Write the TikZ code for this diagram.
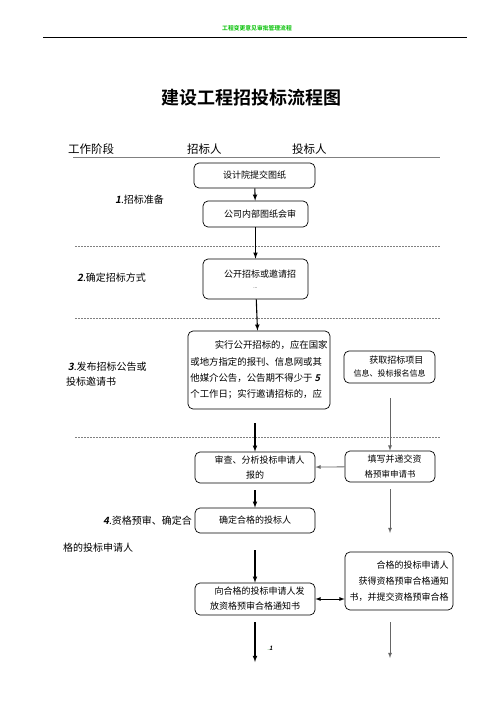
\documentclass[tikz,border=0pt]{standalone}
\usepackage{fontspec}
\setmainfont{Noto Sans CJK SC}[BoldFont={Noto Sans CJK SC Bold},ItalicFont={Noto Sans CJK SC},ItalicFeatures={FakeSlant=0.2},BoldItalicFont={Noto Sans CJK SC Bold},BoldItalicFeatures={FakeSlant=0.2}]
\usetikzlibrary{positioning}
\tikzset{box/.style={draw,rounded corners=5pt,inner sep=2pt,align=center,line width=0.7pt,font=\fontsize{9}{15}\selectfont},
	 stage/.style={anchor=west,align=left,inner sep=0pt,font=\fontsize{10}{15}\selectfont},
	 sep/.style={gray,dash pattern=on 2pt off 1pt,line width=0.5pt},
	 flow/.style={->,>=latex,line width=1.1pt},
	 side/.style={->,>=latex,gray!80!black,line width=0.8pt}
	 }

\begin{document}
\begin{tikzpicture}[x=1pt,y=-1pt]
	\useasboundingbox (0,0) rectangle (496,702);
	% header and title
	\node (hdr) at (257,28) {\fontsize{5.8}{6}\selectfont\color{green!75!black}\bfseries 工程变更意见审批管理流程};
	\coordinate (hl) at (43,37); \coordinate (hr) at (467,37);
	\draw[line width=0.8pt] (hl) -- (hr);
	\node (title) at (251,98) {\fontsize{18}{20}\selectfont\bfseries 建设工程招投标流程图};
	\node[anchor=west,inner sep=0pt] (c1) at (68,149) {\fontsize{11.5}{12}\selectfont 工作阶段};
	\node[anchor=west,inner sep=0pt] (c2) at (187,149) {\fontsize{11.5}{12}\selectfont 招标人};
	\node[anchor=west,inner sep=0pt] (c3) at (292,149) {\fontsize{11.5}{12}\selectfont 投标人};
	\coordinate (ul) at (73,157); \coordinate (ur) at (440,157);
	\draw[gray,line width=1pt] (ul) -- (ur);
	% separators
	\foreach \y/\n in {246/1,318/2,437/3}{
	  \coordinate (l\n) at (75,\y); \coordinate (r\n) at (440,\y);
	  \draw[sep] (l\n) -- (r\n);
	}
	% stages
	\node[stage] (s1) at (115,200) {\textit{\textbf{1}}.招标准备};
	\node[stage] (s2) at (77,278) {\textit{\textbf{2}}.确定招标方式};
	\node[stage] (s3) at (66,374) {\,\textit{\textbf{3}}.发布招标公告或\\投标邀请书};
	\node[stage] (s4a) at (103,521) {\textit{\textbf{4}}.资格预审、确定合};
	\node[stage] (s4b) at (63,548) {格的投标申请人};
	% boxes
	\node[box,minimum width=121pt,minimum height=25pt] (b1) at (254.5,175.5) {设计院提交图纸};
	\node[box,minimum width=105pt,minimum height=26pt] (b2) at (255.5,214) {\hspace{1em}公司内部图纸会审};
	\node[box,minimum width=105pt,minimum height=40pt] (b3) at (255.5,279) {\hspace{1em}公开招标或邀请招\\[-4pt]{\fontsize{5}{5}\selectfont ...}};
	\node[box,minimum width=142pt,minimum height=78pt,align=left,font=\fontsize{9.4}{16.4}\selectfont] (b4) at (259,370)
	  {\hspace{2.6em}实行公开招标的，应在国家\\或地方指定的报刊、信息网或其\\他媒介公告，公告期不得少于 \textit{\textbf{5}}\\个工作日；实行邀请招标的，应};
	\node[box,minimum width=91pt,minimum height=32pt,font=\fontsize{9}{13}\selectfont] (b5) at (389.5,367)
	  {\hspace{1.5em}获取招标项目\\{\fontsize{8}{10}\selectfont 信息、投标报名信息}};
	\node[box,minimum width=120pt,minimum height=31pt] (b6) at (255,467.5) {\hspace{1em}审查、分析投标申请人\\报的};
	\node[box,minimum width=90pt,minimum height=31pt] (b7) at (390,466.5) {\hspace{1em}填写并递交资\\{\fontsize{8.5}{10}\selectfont 格预审申请书}};
	\node[box,minimum width=120pt,minimum height=25pt] (b8) at (255,520.5) {确定合格的投标人};
	\node[box,minimum width=108pt,minimum height=58pt,align=right,font=\fontsize{9}{16}\selectfont] (b9) at (399,581)
	  {合格的投标申请人\\获得资格预审合格通知\\书，并提交资格预审合格};
	\node[box,minimum width=120pt,minimum height=32pt] (b10) at (255,599) {\hspace{1em}向合格的投标申请人发\\放资格预审合格通知书};
	\node[inner sep=0pt] (mk) at (270,648) {\fontsize{6}{6}\selectfont\textcolor{green!60!black}{.}\textit{\textbf{1}}};
	% free ends
	\coordinate (p1) at (255,423);
	\coordinate (p2) at (255,490);
	\coordinate (p3) at (255,550);
	\coordinate (p4) at (255,622); \coordinate (p5) at (255,662);
	\coordinate (q1) at (390,398);
	\coordinate (q2) at (390,489); \coordinate (q3) at (390,533);
	\coordinate (q4) at (390,622); \coordinate (q5) at (390,658);
	% connectors
	\draw[flow] (b1) -- (b2);
	\draw[flow] (b2) -- (b3);
	\draw[flow] (b3) -- (b4);
	\draw[flow] (p1) -- (b6);
	\draw[flow] (p2) -- (b8);
	\draw[flow] (p3) -- (b10);
	\draw[flow] (p4) -- (p5);
	\draw[side] (q1) -- (b7);
	\draw[side] (b7) -- (b6);
	\draw[side] (q2) -- (q3);
	\draw[side] (q4) -- (q5);
	\draw[<->,>=latex,line width=0.8pt] (b10.east) -- (b10.east -| b9.west);
\end{tikzpicture}
\end{document}
